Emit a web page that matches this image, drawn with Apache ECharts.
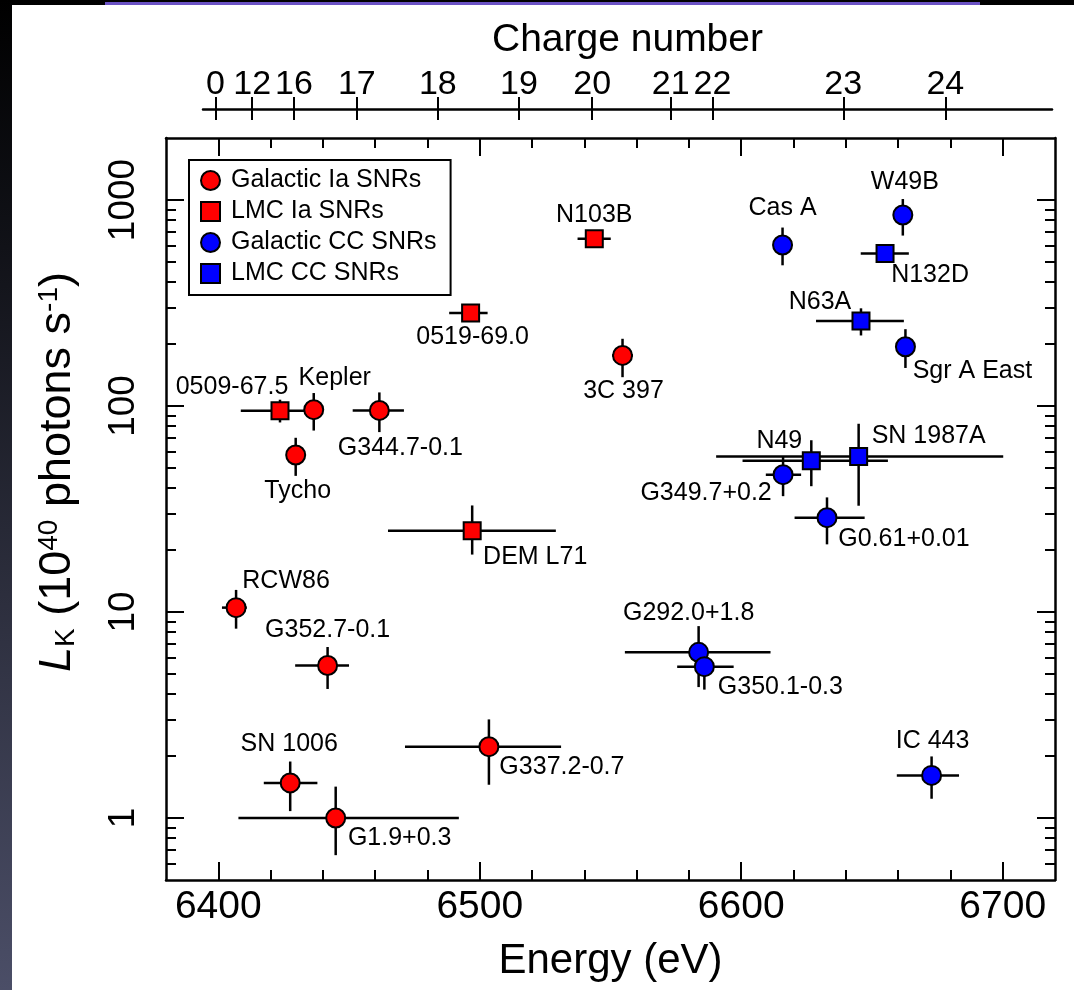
<!DOCTYPE html>
<html>
<head>
<meta charset="utf-8">
<script src="https://cdn.jsdelivr.net/npm/echarts@6/dist/echarts.min.js"></script>
<style>
  html, body { margin: 0; padding: 0; }
  body { width: 1074px; height: 990px; position: relative; overflow: hidden;
         background: linear-gradient(to bottom, #000 0%, #111218 25%, #4b4e67 100%); }
  #panel { position: absolute; left: 12px; top: 5px; right: 0; bottom: 0; background: #fff; }
  #bar { position: absolute; left: 105px; top: 2px; width: 875px; height: 3px; background: #6b52c4; }
  #chart { position: absolute; left: 0; top: 0; width: 1074px; height: 990px; }
</style>
</head>
<body>
<div id="panel"></div>
<div id="bar"></div>
<div id="chart"></div>
<script>
// ---------------- data ----------------
// Galactic Type Ia SNRs (red circles)
const galIaNames = ['Kepler', 'Tycho', 'G344.7-0.1', 'RCW86', 'G352.7-0.1', 'SN 1006', 'G1.9+0.3', 'G337.2-0.7', '3C 397'];
const galIaE     = [6436.5, 6429.6, 6461.6, 6406.8, 6441.8, 6427.5, 6444.9, 6503.5, 6554.6];
const galIaL     = [96, 57.8, 95.2, 10.5, 5.5, 1.48, 1.0, 2.22, 176];
const galIaElo   = [null, null, 6451.4, 6401.4, 6429.4, 6417.4, 6407.7, 6471.4, 6550.6];
const galIaEhi   = [null, null, 6471.0, 6410.9, 6450.0, 6437.9, 6492.0, 6531.1, 6558.6];
const galIaLlo   = [76, 45.8, 74.7, 8.3, 4.23, 1.08, 0.66, 1.45, 138];
const galIaLhi   = [115.6, 70.1, 116.4, 12.8, 6.76, 1.88, 1.42, 3.01, 212];

// LMC Type Ia SNRs (red squares)
const lmcIaNames = ['0509-67.5', '0519-69.0', 'N103B', 'DEM L71'];
const lmcIaE     = [6423.6, 6496.5, 6543.8, 6497.1];
const lmcIaL     = [94.9, 282.7, 649, 24.8];
const lmcIaElo   = [6408.6, 6488.3, 6537.4, 6464.9];
const lmcIaEhi   = [6433.0, 6503.0, 6550.1, 6529.1];
const lmcIaLlo   = [83.2, 270, 620, 19.0];
const lmcIaLhi   = [107.3, 296, 680, 32.9];

// Galactic core-collapse SNRs (blue circles)
const galCCNames = ['Cas A', 'W49B', 'Sgr A East', 'G349.7+0.2', 'G0.61+0.01', 'G292.0+1.8', 'G350.1-0.3', 'IC 443'];
const galCCE     = [6615.8, 6661.8, 6662.8, 6616.0, 6632.8, 6583.7, 6585.9, 6672.8];
const galCCL     = [605, 846, 194, 46.4, 28.7, 6.37, 5.43, 1.61];
const galCCElo   = [null, null, null, 6609.4, 6620.4, 6555.5, 6575.5, 6659.5];
const galCCEhi   = [null, null, null, 6622.9, 6647.2, 6611.2, 6597.1, 6683.3];
const galCCLlo   = [482, 672, 153, 36.5, 21.3, 4.32, 4.2, 1.24];
const galCCLhi   = [735, 1011, 236, 57, 36, 8.54, 6.6, 1.99];

// LMC core-collapse SNRs (blue squares)
const lmcCCNames = ['N132D', 'N63A', 'N49', 'SN 1987A'];
const lmcCCE     = [6655.0, 6645.8, 6626.8, 6644.9];
const lmcCCL     = [550, 258.6, 54.3, 56.9];
const lmcCCElo   = [6645.7, 6628.6, 6600.5, 6590.4];
const lmcCCEhi   = [6664.1, 6662.2, 6656.1, 6700.2];
const lmcCCLlo   = [505, 220, 40.8, 32.8];
const lmcCCLhi   = [600, 298, 68.2, 82.0];

// axes
const energyMin = 6380, energyMax = 6720;
const energyMajorTicks = [6400, 6500, 6600, 6700];
const energyMinorTicks = [6420, 6440, 6460, 6480, 6520, 6540, 6560, 6580, 6620, 6640, 6660, 6680];
const lumMin = 0.5, lumMax = 2000;
const lumMajorTicks = [1, 10, 100, 1000];
const lumMinorTicks = [0.6, 0.7, 0.8, 0.9, 2, 3, 4, 5, 6, 7, 8, 9, 20, 30, 40, 50, 60, 70, 80, 90,
                       200, 300, 400, 500, 600, 700, 800, 900];
// charge-number scale on top (energy of each charge state)
const chargeLabels   = ['0', '12', '16', '17', '18', '19', '20', '21', '22', '23', '24'];
const chargeEnergies = [6399, 6413, 6429, 6453, 6484, 6515, 6543, 6573, 6589, 6639, 6678];
const chargeAxisMin = 6394.2, chargeAxisMax = 6718.8;

// ---------------- styling (label placement per source) ----------------
const labelOffsets = {
  '0509-67.5': [-48, -24], 'Kepler': [21, -32], 'G344.7-0.1': [21, 38], 'Tycho': [2, 36],
  '0519-69.0': [2, 24], 'N103B': [0, -24], '3C 397': [1, 36], 'DEM L71': [63, 26],
  'RCW86': [50, -27], 'G352.7-0.1': [0, -35], 'SN 1006': [-1, -39], 'G1.9+0.3': [64, 20],
  'G337.2-0.7': [73, 20], 'Cas A': [0, -37], 'W49B': [2, -33], 'N132D': [45, 22],
  'N63A': [-41, -19], 'Sgr A East': [67, 24], 'N49': [-32, -20], 'SN 1987A': [70, -20],
  'G349.7+0.2': [-77, 18], 'G0.61+0.01': [77, 21], 'G292.0+1.8': [-10, -39],
  'G350.1-0.3': [76, 20], 'IC 443': [1, -34]
};

const FONT = '"Liberation Sans", Arial, Helvetica, sans-serif';

function pointData(names, E, L) {
  return names.map((n, i) => ({
    name: n,
    value: [E[i], L[i]],
    label: { show: true, position: 'inside', offset: labelOffsets[n] || [0, 0], formatter: n }
  }));
}
function errData(E, L, Elo, Ehi, Llo, Lhi) {
  return E.map((e, i) => [e, L[i],
    Elo[i] == null ? e : Elo[i], Ehi[i] == null ? e : Ehi[i],
    Llo[i] == null ? L[i] : Llo[i], Lhi[i] == null ? L[i] : Lhi[i]]);
}
const allErr = [].concat(
  errData(galIaE, galIaL, galIaElo, galIaEhi, galIaLlo, galIaLhi),
  errData(lmcIaE, lmcIaL, lmcIaElo, lmcIaEhi, lmcIaLlo, lmcIaLhi),
  errData(galCCE, galCCL, galCCElo, galCCEhi, galCCLlo, galCCLhi),
  errData(lmcCCE, lmcCCL, lmcCCElo, lmcCCEhi, lmcCCLlo, lmcCCLhi)
);

const lineW = 2.5;
const black = '#000';

function frameX(position, ticks, len, withLine, extra) {
  return Object.assign({
    type: 'value', gridIndex: 0, position: position, min: energyMin, max: energyMax,
    axisLine: { show: withLine, lineStyle: { color: black, width: lineW } },
    axisTick: { show: true, inside: true, length: len, customValues: ticks, lineStyle: { color: black, width: 2 } },
    axisLabel: { show: false },
    splitLine: { show: false }
  }, extra || {});
}
function frameY(position, ticks, len, withLine, extra) {
  return Object.assign({
    type: 'log', logBase: 10, gridIndex: 0, position: position, min: lumMin, max: lumMax,
    axisLine: { show: withLine, lineStyle: { color: black, width: lineW } },
    axisTick: { show: true, inside: true, length: len, customValues: ticks, lineStyle: { color: black, width: 2 } },
    axisLabel: { show: false },
    splitLine: { show: false }
  }, extra || {});
}

const chart = echarts.init(document.getElementById('chart'), null, { renderer: 'canvas' });

const option = {
  animation: false,
  backgroundColor: 'transparent',
  textStyle: { fontFamily: FONT },
  grid: [
    { left: 166, right: 19, top: 138, bottom: 110 },
    { left: 203, right: 22, top: 108, height: 1 }
  ],
  legend: {
    orient: 'vertical', left: 189, top: 160,
    padding: [8, 14, 9, 11], itemGap: 6, itemWidth: 19, itemHeight: 19,
    borderColor: black, borderWidth: 2, backgroundColor: '#fff',
    textStyle: { fontSize: 25, color: black, fontFamily: FONT, padding: [0, 0, 0, 6] },
    data: ['Galactic Ia SNRs', 'LMC Ia SNRs', 'Galactic CC SNRs', 'LMC CC SNRs']
  },
  xAxis: [
    frameX('bottom', energyMajorTicks, 18, true, {
      axisLabel: { show: true, customValues: energyMajorTicks, fontSize: 39, color: black, margin: 8, fontFamily: FONT,
                   formatter: v => String(v) },
      name: 'Energy (eV)', nameLocation: 'middle', nameGap: 60,
      nameTextStyle: { fontSize: 42, color: black, fontFamily: FONT }
    }),
    frameX('bottom', energyMinorTicks, 10, false),
    frameX('top', energyMajorTicks, 18, true),
    frameX('top', energyMinorTicks, 10, false),
    {
      type: 'value', gridIndex: 1, position: 'top', min: chargeAxisMin, max: chargeAxisMax,
      axisLine: { show: true, lineStyle: { color: black, width: lineW } },
      axisTick: { show: true, inside: false, length: 12, customValues: chargeEnergies, lineStyle: { color: black, width: 2 } },
      axisLabel: { show: true, customValues: chargeEnergies, fontSize: 34, color: black, margin: 6, fontFamily: FONT,
                   formatter: v => { const i = chargeEnergies.indexOf(v); return i >= 0 ? chargeLabels[i] : ''; } },
      splitLine: { show: false },
      name: 'Charge number', nameLocation: 'middle', nameGap: 48,
      nameTextStyle: { fontSize: 39, color: black, fontFamily: FONT }
    },
    {
      type: 'value', gridIndex: 1, position: 'top', min: chargeAxisMin, max: chargeAxisMax,
      axisLine: { show: false },
      axisTick: { show: true, inside: true, length: 12, customValues: chargeEnergies, lineStyle: { color: black, width: 2 } },
      axisLabel: { show: false }, splitLine: { show: false }
    }
  ],
  yAxis: [
    frameY('left', lumMajorTicks, 18, true, {
      axisLabel: { show: true, customValues: lumMajorTicks, rotate: 90, fontSize: 37, color: black, margin: 24, fontFamily: FONT,
                   formatter: v => String(v) },
      name: '{it|L}{sub|K}{n| (10}{sup|40}{n| photons s}{sup|-1}{n|)}',
      nameLocation: 'middle', nameRotate: 90, nameGap: 86,
      nameTextStyle: {
        color: black, fontFamily: FONT, fontSize: 45, padding: [0, 0, 0, 74],
        rich: {
          it: { fontStyle: 'italic', fontSize: 45, color: black, fontFamily: FONT },
          n: { fontSize: 45, color: black, fontFamily: FONT },
          sub: { fontSize: 28, color: black, fontFamily: FONT, verticalAlign: 'bottom' },
          sup: { fontSize: 28, color: black, fontFamily: FONT, verticalAlign: 'top' }
        }
      }
    }),
    frameY('left', lumMinorTicks, 10, false),
    frameY('right', lumMajorTicks, 18, true),
    frameY('right', lumMinorTicks, 10, false),
    { type: 'value', gridIndex: 1, show: false, min: 0, max: 1 }
  ],
  series: [
    {
      type: 'custom', name: 'errors', xAxisIndex: 0, yAxisIndex: 0, z: 2,
      encode: { x: 0, y: 1 },
      data: allErr,
      renderItem: function (params, api) {
        const x = api.value(0), y = api.value(1);
        const a = api.coord([api.value(2), y]), b = api.coord([api.value(3), y]);
        const c = api.coord([x, api.value(4)]), d = api.coord([x, api.value(5)]);
        const st = { stroke: black, lineWidth: lineW };
        return { type: 'group', children: [
          { type: 'line', shape: { x1: a[0], y1: a[1], x2: b[0], y2: b[1] }, style: st },
          { type: 'line', shape: { x1: c[0], y1: c[1], x2: d[0], y2: d[1] }, style: st }
        ] };
      }
    },
    {
      type: 'scatter', name: 'Galactic Ia SNRs', symbol: 'circle', symbolSize: 19, z: 3,
      itemStyle: { color: '#ff0000', borderColor: black, borderWidth: 2, opacity: 1 },
      label: { fontSize: 25, color: black, fontFamily: FONT },
      data: pointData(galIaNames, galIaE, galIaL)
    },
    {
      type: 'scatter', name: 'LMC Ia SNRs', symbol: 'rect', symbolSize: 17, z: 3,
      itemStyle: { color: '#ff0000', borderColor: black, borderWidth: 2, opacity: 1 },
      label: { fontSize: 25, color: black, fontFamily: FONT },
      data: pointData(lmcIaNames, lmcIaE, lmcIaL)
    },
    {
      type: 'scatter', name: 'Galactic CC SNRs', symbol: 'circle', symbolSize: 19, z: 3,
      itemStyle: { color: '#0000ff', borderColor: black, borderWidth: 2, opacity: 1 },
      label: { fontSize: 25, color: black, fontFamily: FONT },
      data: pointData(galCCNames, galCCE, galCCL)
    },
    {
      type: 'scatter', name: 'LMC CC SNRs', symbol: 'rect', symbolSize: 17, z: 3,
      itemStyle: { color: '#0000ff', borderColor: black, borderWidth: 2, opacity: 1 },
      label: { fontSize: 25, color: black, fontFamily: FONT },
      data: pointData(lmcCCNames, lmcCCE, lmcCCL)
    }
  ]
};
chart.setOption(option);
</script>
</body>
</html>
